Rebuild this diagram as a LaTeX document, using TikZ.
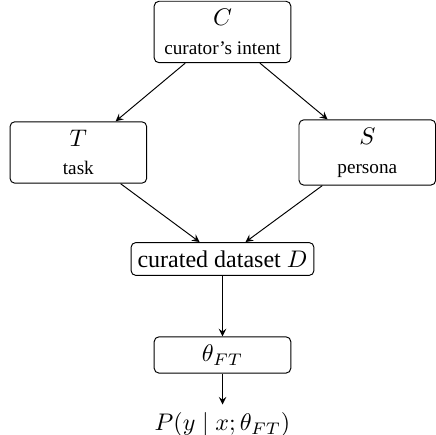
\documentclass[tikz,border=0pt]{standalone}
\usepackage{fontspec}
\setmainfont{Liberation Serif}
\usepackage{amsmath}

\begin{document}
\begin{tikzpicture}
  [>=stealth,
   box/.style={draw,rounded corners=2pt,minimum width=2cm,inner xsep=2.7pt,align=center}]
  \useasboundingbox (-3.257,0.468) rectangle (3.125,-5.899);

  \node[box] (C) at (0,0) {$C$\\{\footnotesize curator's intent}};
  \node[box] (T) at (-2.11,-1.764) {$T$\\{\footnotesize task}};
  \node[box] (S) at (2.12,-1.764) {$S$\\{\footnotesize persona}};
  \node[box,minimum width=0pt] (D) at (0,-3.323) {curated dataset $D$};
  \node[box] (theta) at (0,-4.728) {$\theta_{FT}$};
  \node (P) at (0,-5.753) {$P(y \mid x; \theta_{FT})$};

  \foreach \from/\to in {C/T,C/S,T/D,S/D,D/theta,theta/P}
    \draw[->] (\from) -- (\to);

\end{tikzpicture}
\end{document}
